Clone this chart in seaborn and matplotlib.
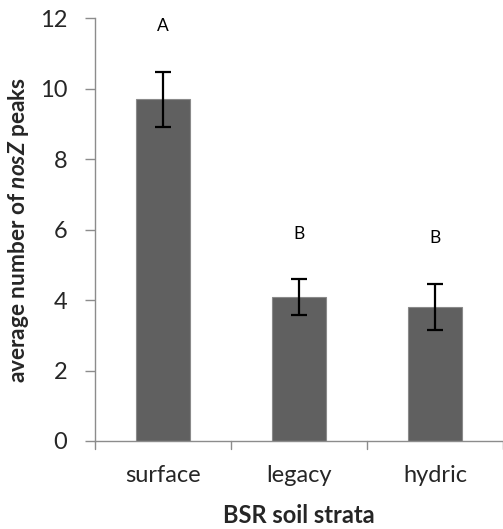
import matplotlib
matplotlib.use("Agg")
import matplotlib.pyplot as plt
import seaborn as sns
import pandas as pd

# Data
strata = ["surface", "legacy", "hydric"]
mean_peaks = [9.70, 4.08, 3.80]
err_peaks = [0.78, 0.51, 0.65]
letters = ["A", "B", "B"]
y_ticks = [0, 2, 4, 6, 8, 10, 12]

sns.set_theme(style="white")
plt.rcParams["font.family"] = ["Lato", "DejaVu Sans"]
plt.rcParams["mathtext.fontset"] = "custom"
plt.rcParams["mathtext.bfit"] = "Lato:italic:bold"
plt.rcParams["mathtext.rm"] = "Lato"

df = pd.DataFrame({"strata": strata, "peaks": mean_peaks})

fig = plt.figure(figsize=(5.03, 5.29), dpi=100)
ax = fig.add_axes([0.1889, 0.1664, 0.8111, 0.799])

sns.barplot(data=df, x="strata", y="peaks", color="#606060", saturation=1,
            width=0.4, edgecolor="#8a8a8a", linewidth=0.8, errorbar=None, ax=ax)

ax.errorbar(range(len(strata)), mean_peaks, yerr=err_peaks, fmt="none",
            ecolor="black", elinewidth=1.6, capsize=5.5, capthick=1.6)

for i, (m, e, lab) in enumerate(zip(mean_peaks, err_peaks, letters)):
    ax.text(i, m + e + 1.3, lab, ha="center", va="center", fontsize=12.5,
            color="black")

ax.set_xlim(-0.5, 2.5)
ax.set_ylim(0, 12)
ax.set_yticks(y_ticks)
ax.set_yticklabels([str(t) for t in y_ticks], fontsize=17)
ax.tick_params(axis="x", labelsize=17, length=0, pad=17)
ax.tick_params(axis="y", length=7, width=1, color="#8c8c8c", direction="out",
               left=True, pad=13)

# Category boundary ticks on the x axis
for xb in [-0.5, 0.5, 1.5, 2.5]:
    ax.plot([xb, xb], [0, -0.24], color="#8c8c8c", lw=1, clip_on=False)

for side in ["top", "right"]:
    ax.spines[side].set_visible(False)
for side in ["left", "bottom"]:
    ax.spines[side].set_color("#8c8c8c")
    ax.spines[side].set_linewidth(1)

ax.set_xlabel("BSR soil strata", fontsize=17, fontweight="bold", labelpad=13)
ax.set_ylabel(r"average number of $\mathbfit{nosZ}$ peaks", fontsize=16.3,
              fontweight="bold", labelpad=6)

fig.savefig("out.png", dpi=100)
